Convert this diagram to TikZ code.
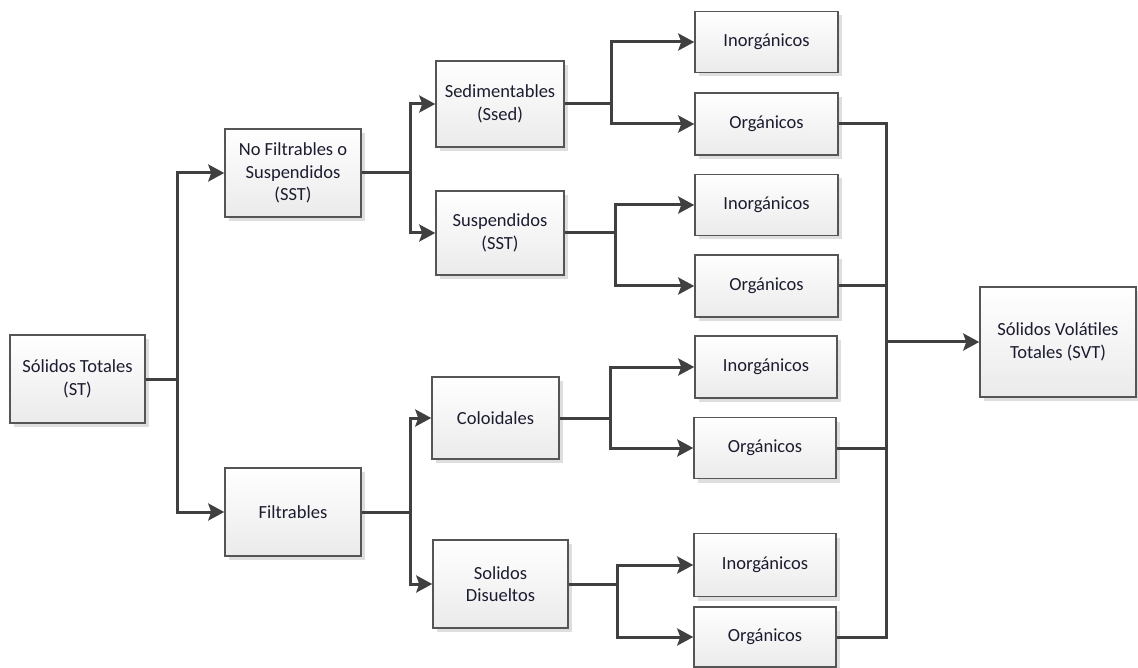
\documentclass[tikz,border=0pt]{standalone}
\usepackage{fontspec}
\setmainfont{Carlito}
\usetikzlibrary{arrows.meta,shadows}
\definecolor{linegray}{HTML}{404040}
\definecolor{framegray}{HTML}{555555}
\definecolor{inkblue}{RGB}{28,28,48}
\tikzset{
  box/.style={draw=framegray, line width=1.5pt, rectangle,
    top color=white, bottom color=black!8,
    drop shadow={shadow xshift=4pt, shadow yshift=-4pt, fill=black!13, opacity=1},
    inner sep=0pt, align=center, text=inkblue,
    font=\fontsize{18.5}{22.5}\selectfont},
  conn/.style={draw=linegray, line width=3pt},
  arr/.style={conn, -{Stealth[length=16pt,width=17pt,inset=3pt]}},
}
\begin{document}
\begin{tikzpicture}[x=1pt,y=-1pt]
\useasboundingbox (0,0) rectangle (1138,668);

% first level
\node[box, minimum width=135pt, minimum height=88pt] (st) at (77.5,379) {Sólidos Totales\\(ST)};

% second level
\node[box, minimum width=136pt, minimum height=88pt] (nf) at (293,173) {No Filtrables o\\Suspendidos\\(SST)};
\node[box, minimum width=136pt, minimum height=88pt] (fil) at (293,512) {Filtrables};

% third level
\node[box, minimum width=128pt, minimum height=86pt] (sed) at (500,104) {Sedimentables\\(Ssed)};
\node[box, minimum width=128pt, minimum height=84pt] (sus) at (500,233) {Suspendidos\\(SST)};
\node[box, minimum width=127pt, minimum height=82pt] (col) at (495.5,418) {Coloidales};
\node[box, minimum width=135pt, minimum height=88pt] (sd) at (500.5,584) {Solidos\\Disueltos};

% fourth level
\node[box, minimum width=143pt, minimum height=61pt] (i1) at (766.5,42) {Inorgánicos};
\node[box, minimum width=143pt, minimum height=62pt] (o1) at (766.5,124) {Orgánicos};
\node[box, minimum width=143pt, minimum height=61pt] (i2) at (766.5,205) {Inorgánicos};
\node[box, minimum width=143pt, minimum height=62pt] (o2) at (766.5,286) {Orgánicos};
\node[box, minimum width=142pt, minimum height=62pt] (i3) at (766,367) {Inorgánicos};
\node[box, minimum width=142pt, minimum height=61pt] (o3) at (765,448) {Orgánicos};
\node[box, minimum width=142pt, minimum height=63pt] (i4) at (765,565) {Inorgánicos};
\node[box, minimum width=142pt, minimum height=60pt] (o4) at (765,637) {Orgánicos};

% result
\node[box, minimum width=156pt, minimum height=110pt] (svt) at (1058,342) {Sólidos Volátiles\\Totales (SVT)};

% branching connectors
\draw[arr] (st.east) -- (177,379) |- (nf.west);
\draw[arr] (st.east) -- (177,379) |- (fil.west);

\draw[arr] (nf.east) -- (410,173) |- (sed.west);
\draw[arr] (nf.east) -- (410,173) |- (sus.west);
\draw[arr] (fil.east) -- (410,512) |- (col.west);
\draw[arr] (fil.east) -- (410,512) |- (sd.west);

\draw[arr] (sed.east) -- (611,104) |- (i1.west);
\draw[arr] (sed.east) -- (611,104) |- (o1.west);
\draw[arr] (sus.east) -- (615,233) |- (i2.west);
\draw[arr] (sus.east) -- (615,233) |- (o2.west);
\draw[arr] (col.east) -- (610,418) |- (i3.west);
\draw[arr] (col.east) -- (610,418) |- (o3.west);
\draw[arr] (sd.east) -- (617,584) |- (i4.west);
\draw[arr] (sd.east) -- (617,584) |- (o4.west);

% collecting bus into the result
\coordinate (jn) at (886,342);
\draw[conn] (o1.east) -| (jn);
\draw[conn] (o2.east) -| (jn);
\draw[conn] (o3.east) -| (jn);
\draw[conn] (o4.east) -| (jn);
\draw[arr] (jn) -- (svt.west);
\end{tikzpicture}
\end{document}
